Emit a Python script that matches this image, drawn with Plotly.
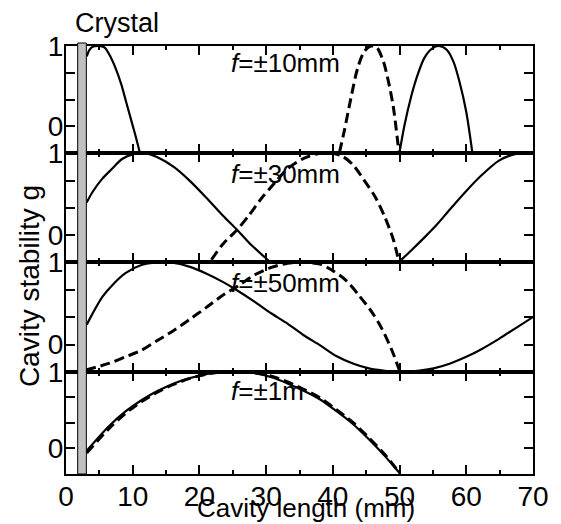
import plotly.graph_objects as go
from plotly.subplots import make_subplots

# ---------------- data ----------------
panel_labels = ["<i>f</i>=±10mm", "<i>f</i>=±30mm", "<i>f</i>=±50mm", "<i>f</i>=±1m"]
crystal_x = [1.75, 3.05]

# f = ±10 mm
f10_solid_a_x = [3.1, 3.5, 4.0, 4.9, 5.8, 6.7, 7.5, 8.3, 9.0, 9.7, 10.4, 11.05]
f10_solid_a_y = [0.87, 0.95, 0.99, 1.0, 0.98, 0.86, 0.71, 0.52, 0.31, 0.10, -0.11, -0.32]
f10_dash_x = [41.0, 41.7, 42.7, 43.7, 44.7, 45.7, 46.6, 47.6, 48.3, 49.05, 49.9]
f10_dash_y = [-0.32, -0.06, 0.35, 0.72, 0.93, 1.0, 0.98, 0.80, 0.57, 0.25, -0.32]
f10_solid_b_x = [50.0, 50.75, 51.7, 52.7, 53.7, 54.9, 55.9, 57.1, 58.1, 59.0, 60.0, 60.9]
f10_solid_b_y = [-0.32, 0.02, 0.36, 0.64, 0.85, 0.97, 1.0, 0.95, 0.80, 0.55, 0.18, -0.32]

# f = ±30 mm
f30_solid_a_x = [3.1, 4.0, 5.45, 6.9, 8.4, 10.1, 11.8, 13.7, 16.2, 18.6, 21.0, 23.5, 25.7, 27.9, 29.8, 30.5]
f30_solid_a_y = [0.40, 0.53, 0.69, 0.81, 0.93, 0.99, 1.0, 0.95, 0.83, 0.66, 0.46, 0.24, 0.06, -0.13, -0.27, -0.32]
f30_dash_x = [21.8, 23.5, 25.7, 27.4, 29.3, 31.3, 33.2, 35.7, 38.1, 40.0, 41.5, 43.0, 44.7, 46.4, 47.8, 49.05, 49.9]
f30_dash_y = [-0.30, -0.11, 0.07, 0.24, 0.45, 0.64, 0.81, 0.94, 1.0, 1.0, 0.96, 0.86, 0.67, 0.46, 0.22, -0.05, -0.32]
f30_solid_b_x = [50.0, 51.7, 53.7, 55.6, 57.6, 60.0, 62.4, 64.9, 67.3, 68.8, 70.0]
f30_solid_b_y = [-0.32, -0.19, -0.03, 0.13, 0.32, 0.54, 0.74, 0.91, 0.99, 1.0, 1.0]

# f = ±50 mm
f50_solid_x = [3.1, 4.0, 5.45, 6.9, 8.9, 11.3, 13.7, 15.7, 18.6, 21.0, 23.5, 25.2, 28.3, 30.8,
               33.2, 35.7, 38.1, 40.5, 43.0, 45.4, 47.8, 50.0, 52.7, 55.1, 57.6, 60.0, 62.4,
               64.9, 67.3, 70.0]
f50_solid_y = [0.24, 0.38, 0.58, 0.72, 0.87, 0.97, 1.0, 1.0, 0.947, 0.866, 0.764, 0.683, 0.52, 0.378,
               0.256, 0.11, -0.01, -0.14, -0.23, -0.29, -0.32, -0.333, -0.32, -0.29, -0.23, -0.15, -0.05,
               0.07, 0.195, 0.335]
f50_dash_x = [3.0, 6.4, 8.9, 11.3, 13.7, 16.2, 18.6, 21.0, 23.5, 25.9, 28.3, 30.8, 33.2, 35.7,
              38.1, 40.0, 42.0, 43.9, 45.9, 47.3, 48.8, 50.0]
f50_dash_y = [-0.31, -0.23, -0.15, -0.07, 0.05, 0.175, 0.31, 0.45, 0.60, 0.72, 0.85, 0.94, 0.99, 1.0,
              0.98, 0.90, 0.78, 0.60, 0.39, 0.20, -0.06, -0.32]

# f = ±1 m
f1m_solid_x = [3.1, 6.43, 8.87, 11.3, 13.7, 16.2, 18.6, 21.0, 23.5, 25.9, 28.3, 30.8, 33.2, 35.7,
               38.1, 40.5, 43.0, 45.4, 47.8, 50.0]
f1m_solid_y = [-0.03, 0.29, 0.48, 0.63, 0.75, 0.85, 0.92, 0.97, 1.0, 1.0, 0.985, 0.93, 0.85, 0.75,
               0.64, 0.49, 0.32, 0.12, -0.10, -0.32]
f1m_dash_x = [3.1, 6.43, 8.87, 11.3, 13.7, 16.2, 18.6, 21.0, 23.5, 25.9, 28.3, 30.8, 33.2, 35.7,
              38.1, 40.5, 43.0, 45.4, 47.8, 50.0]
f1m_dash_y = [-0.06, 0.26, 0.455, 0.61, 0.735, 0.84, 0.915, 0.97, 1.0, 1.0, 0.99, 0.945, 0.87, 0.77,
              0.66, 0.51, 0.34, 0.14, -0.08, -0.32]

x_tick_vals = [0, 10, 20, 30, 40, 50, 60, 70]
y_tick_vals = [0, 1/3, 2/3, 1]
y_tick_text = ["0", "", "", "1"]

# ---------------- figure ----------------
fig = make_subplots(rows=4, cols=1, shared_xaxes=True, vertical_spacing=0)

solid = dict(color="black", width=2.2)
dashed = dict(color="black", width=3, dash="10px,5px")

panels = [
    [(f10_solid_a_x, f10_solid_a_y, solid), (f10_dash_x, f10_dash_y, dashed), (f10_solid_b_x, f10_solid_b_y, solid)],
    [(f30_solid_a_x, f30_solid_a_y, solid), (f30_dash_x, f30_dash_y, dashed), (f30_solid_b_x, f30_solid_b_y, solid)],
    [(f50_solid_x, f50_solid_y, solid), (f50_dash_x, f50_dash_y, dashed)],
    [(f1m_dash_x, f1m_dash_y, dashed), (f1m_solid_x, f1m_solid_y, solid)],
]
for i, traces in enumerate(panels):
    for xs, ys, ln in traces:
        fig.add_trace(go.Scatter(x=xs, y=ys, mode="lines", line=dict(shape="spline", smoothing=0.8, **ln),
                                 showlegend=False, hoverinfo="skip"), row=i + 1, col=1)

# panel pixel edges: top=46, bottom=475 (height 429)
domains = [[0.7494, 1.0], [0.4942, 0.7494], [0.2385, 0.4942], [0.0, 0.2385]]
for i in range(4):
    xa = "xaxis" if i == 0 else f"xaxis{i+1}"
    ya = "yaxis" if i == 0 else f"yaxis{i+1}"
    fig.layout[ya].update(
        domain=domains[i], range=[-1/3, 1], tickvals=y_tick_vals, ticktext=y_tick_text,
        ticks="inside", ticklen=9, tickwidth=1.5, tickcolor="black", mirror="ticks",
        showline=True, linewidth=2, linecolor="black", showgrid=False, zeroline=False,
        tickfont=dict(size=28, color="black"), fixedrange=True, ticklabelstandoff=-5,
    )
    fig.layout[xa].update(
        range=[0, 70], tickvals=x_tick_vals, ticks="inside", ticklen=9, tickwidth=1.5, tickcolor="black",
        mirror="ticks", showline=True, linewidth=2, linecolor="black", showgrid=False, zeroline=False,
        minor=dict(dtick=5, tick0=0, ticks="inside", ticklen=4, tickwidth=1.5, tickcolor="black", showgrid=False),
        tickfont=dict(size=28, color="black"), showticklabels=(i == 3), fixedrange=True,
        ticklabelstandoff=-4,
    )

# crystal bar
fig.add_shape(type="rect", xref="x4", yref="paper", x0=crystal_x[0], x1=crystal_x[1], y0=0, y1=1.007,
              fillcolor="#c0c0c0", line=dict(color="black", width=1), layer="above")

label_y = [0.961, 0.702, 0.446, 0.193]
for txt, yy in zip(panel_labels, label_y):
    fig.add_annotation(text=txt, xref="paper", yref="paper", x=0.3486, y=yy, xanchor="left", yanchor="middle",
                       showarrow=False, font=dict(size=26, color="black"))

fig.add_annotation(text="Crystal", xref="paper", yref="paper", x=0.0146, y=1.054, xanchor="left",
                   yanchor="middle", showarrow=False, font=dict(size=27, color="black"))
fig.add_annotation(text="Cavity stability g", xref="paper", yref="paper", x=-0.078, y=0.438, textangle=-90,
                   xanchor="center", yanchor="middle", showarrow=False, font=dict(size=28, color="black"))
fig.add_annotation(text="Cavity length (mm)", xref="paper", yref="paper", x=0.5146, y=-0.079,
                   xanchor="center", yanchor="middle", showarrow=False, font=dict(size=26, color="black"))

fig.update_layout(
    width=561, height=524, margin=dict(l=66, r=16, t=46, b=49),
    paper_bgcolor="white", plot_bgcolor="white",
    font=dict(family="Arial, Liberation Sans, sans-serif", color="black"),
)

fig.write_html("out.html")
